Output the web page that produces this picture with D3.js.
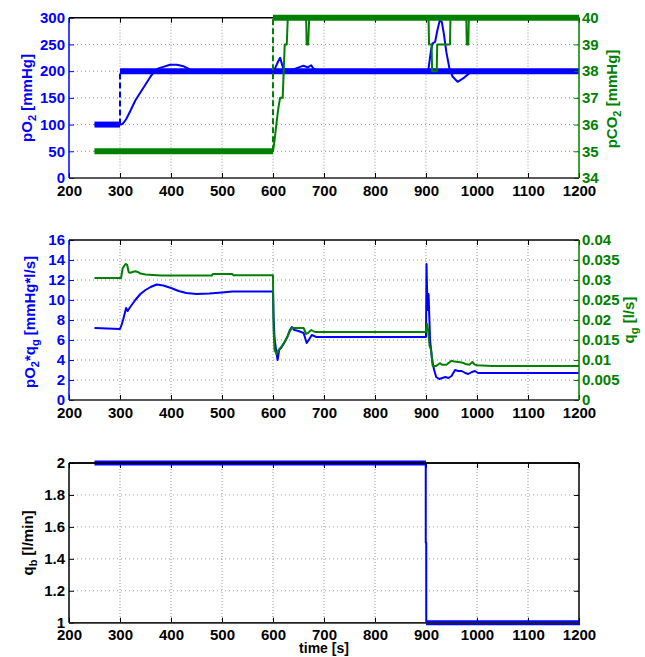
<!DOCTYPE html>
<html>
<head>
<meta charset="utf-8">
<script src="https://cdn.jsdelivr.net/npm/d3@7/dist/d3.min.js"></script>
<style>
  body { margin: 0; background: #fff; }
  svg text { font-family: "Liberation Sans Narrow", "Arial Narrow", "Liberation Sans", sans-serif; font-weight: bold; }
  .tick text { font-size: 15px; }
</style>
</head>
<body>
<div id="chart"></div>
<script>
// ---- data ----
var timeTicks = [200, 300, 400, 500, 600, 700, 800, 900, 1000, 1100, 1200];

// panel 1: pO2 (left) and pCO2 (right)
var po2Ticks = [0, 50, 100, 150, 200, 250, 300];
var pco2Ticks = [34, 35, 36, 37, 38, 39, 40];
var po2SetLowT = [250, 300], po2SetLow = [100, 100];
var po2SetHighT = [300, 1200], po2SetHigh = [200, 200];
var po2StepT = [300, 300], po2Step = [100, 200];
var po2MeasT = [250, 302, 306, 312, 320, 330, 340, 350, 360, 368, 375, 385, 398, 411, 425, 433, 442, 600, 604, 610, 614, 617, 620, 626, 640, 653, 660, 668, 675, 679, 688, 900, 905, 910, 913, 918, 922, 927, 931, 935, 940, 946, 952, 962, 975, 990, 1200];
var po2Meas = [100, 100, 102, 110, 125, 145, 160, 175, 190, 200, 205, 208, 212, 212, 209, 205, 200, 200, 205, 218, 225, 215, 205, 203, 203, 208, 210, 207, 211, 205, 200, 200, 205, 240, 252, 255, 275, 295, 292, 270, 235, 205, 190, 180, 188, 200, 200];
var pco2SetLowT = [250, 600], pco2SetLow = [35, 35];
var pco2SetHighT = [600, 1200], pco2SetHigh = [40, 40];
var pco2StepT = [600, 600], pco2Step = [35, 40];
var pco2MeasT = [250, 600, 603, 606, 609, 612, 614, 619, 621, 623, 627, 629, 665, 666, 669, 671, 905, 906, 911, 912, 921, 922, 947, 948, 979, 980, 983, 984, 1200];
var pco2Meas = [35, 35, 35.4, 35.9, 36.4, 36.8, 37, 37, 38, 39, 39, 40, 40, 39, 39, 40, 40, 39, 39, 38, 38, 39, 39, 40, 40, 39, 39, 40, 40];

// panel 2: pO2*qg (left) and qg (right)
var fluxTicks = [0, 2, 4, 6, 8, 10, 12, 14, 16];
var qgTicks = [0, 0.005, 0.01, 0.015, 0.02, 0.025, 0.03, 0.035, 0.04];
var fluxT = [250, 300, 303, 306, 310, 312, 315, 320, 330, 340, 350, 360, 372, 385, 400, 415, 430, 450, 475, 500, 520, 600, 601, 603, 606, 609, 612, 617, 622, 628, 633, 637, 642, 650, 660, 666, 670, 676, 685, 900, 901, 903, 905, 908, 912, 916, 920, 926, 932, 938, 944, 950, 957, 963, 970, 977, 983, 990, 996, 1002, 1200];
var flux = [7.2, 7.1, 7.5, 8.0, 8.8, 9.2, 8.9, 9.3, 10.0, 10.6, 11.0, 11.3, 11.55, 11.45, 11.2, 10.9, 10.7, 10.6, 10.65, 10.75, 10.85, 10.85, 8.5, 6.2, 5.0, 4.0, 5.0, 5.3, 5.7, 6.3, 7.0, 7.3, 7.0, 6.9, 6.7, 5.7, 6.0, 6.5, 6.3, 6.3, 13.6, 9.0, 10.6, 6.0, 4.0, 3.0, 2.3, 2.1, 2.2, 2.3, 2.2, 2.4, 3.0, 2.9, 2.9, 2.7, 2.6, 2.8, 2.9, 2.7, 2.7];
var qgT = [250, 302, 305, 308, 311, 314, 317, 320, 325, 330, 335, 340, 350, 380, 480, 482, 520, 522, 600, 601, 603, 607, 611, 615, 619, 624, 629, 633, 637, 645, 660, 665, 669, 675, 682, 690, 900, 902, 904, 907, 910, 913, 920, 927, 932, 940, 950, 956, 963, 970, 978, 985, 991, 995, 1000, 1030, 1200];
var qg = [0.0305, 0.0305, 0.0328, 0.0335, 0.034, 0.0338, 0.032, 0.0318, 0.032, 0.0322, 0.032, 0.0316, 0.0314, 0.0311, 0.0311, 0.0315, 0.0315, 0.0312, 0.0312, 0.018, 0.0125, 0.0115, 0.0125, 0.013, 0.0138, 0.0148, 0.016, 0.0172, 0.018, 0.018, 0.018, 0.0165, 0.0168, 0.0175, 0.017, 0.017, 0.017, 0.019, 0.0175, 0.0135, 0.0125, 0.0085, 0.0085, 0.0092, 0.0088, 0.0088, 0.0098, 0.0096, 0.0095, 0.0094, 0.009, 0.0088, 0.0095, 0.0089, 0.0087, 0.0085, 0.0085];

// panel 3: qb
var qbTicks = [1, 1.2, 1.4, 1.6, 1.8, 2];
var qbHighT = [250, 900], qbHigh = [2, 2];
var qbLowT = [900, 1202], qbLow = [1, 1];
var qbStepT = [899.5, 899.5, 900.5, 900.5], qbStep = [2, 1.5, 1.5, 1];

// ---- layout ----
var svgWidth = 645, svgHeight = 657;
var blue = "#0000ff", green = "#008000", black = "#000";
var left = 69, right = 579;

var svg = d3.select("#chart").append("svg")
  .attr("width", svgWidth)
  .attr("height", svgHeight);

var x = d3.scaleLinear().domain([200, 1200]).range([left, right]);

function zip(ts, vs) {
  return ts.map(function(t, i) { return [t, vs[i]]; });
}

// grid of one panel; returns the y scales and settings
function makePanel(top, bottom, yl, ylTicks, ylColor, yr, yrTicks, yrColor, fmtL, fmtR) {
  var g = svg.append("g");
  var yL = d3.scaleLinear().domain(yl).range([bottom, top]);

  // vertical grid
  g.selectAll(".vgrid").data(timeTicks.slice(1, -1)).enter().append("line")
    .attr("x1", d => x(d)).attr("x2", d => x(d))
    .attr("y1", top).attr("y2", bottom)
    .attr("stroke", "#999").attr("stroke-width", 1).attr("stroke-dasharray", "1,2");
  // horizontal grid, same colour as left axis
  g.selectAll(".hgrid").data(ylTicks.slice(1, -1)).enter().append("line")
    .attr("x1", left).attr("x2", right)
    .attr("y1", d => yL(d)).attr("y2", d => yL(d))
    .attr("stroke", ylColor === black ? "#999" : "#8080ff")
    .attr("stroke-width", 1).attr("stroke-dasharray", "1,3");

  var yR = null;
  if (yr) yR = d3.scaleLinear().domain(yr).range([bottom, top]);
  return { g: g, yL: yL, yR: yR, top: top, bottom: bottom,
    ylTicks: ylTicks, yrTicks: yrTicks, ylColor: ylColor, yrColor: yrColor, fmtL: fmtL, fmtR: fmtR };
}

function drawAxes(p) {
  var axG = svg.append("g");
  // bottom and top x axes
  var bottomAxis = d3.axisBottom(x).tickValues(timeTicks).tickSizeInner(-5).tickSizeOuter(0)
    .tickPadding(7).tickFormat(d3.format("d"));
  var xa = axG.append("g").attr("transform", `translate(0,${p.bottom})`).call(bottomAxis);
  var topAxis = d3.axisTop(x).tickValues(timeTicks).tickSizeInner(-5).tickSizeOuter(0).tickFormat("");
  var xt = axG.append("g").attr("transform", `translate(0,${p.top})`).call(topAxis);
  [xa, xt].forEach(function(a) {
    a.select(".domain").remove();
    a.selectAll("line").attr("stroke", black);
    a.selectAll("text").attr("fill", black);
  });

  var leftAxis = d3.axisLeft(p.yL).tickValues(p.ylTicks).tickSizeInner(-5).tickSizeOuter(0).tickPadding(4).tickFormat(p.fmtL);
  var ya = axG.append("g").attr("transform", `translate(${left},0)`).call(leftAxis);
  ya.select(".domain").remove();
  ya.selectAll("line").attr("stroke", p.ylColor);
  ya.selectAll("text").attr("fill", p.ylColor);

  var rScale = p.yR || p.yL;
  var rTicks = p.yR ? p.yrTicks : p.ylTicks;
  var rColor = p.yR ? p.yrColor : black;
  var rightAxis = d3.axisRight(rScale).tickValues(rTicks).tickSizeInner(-5).tickSizeOuter(0).tickPadding(3)
    .tickFormat(p.yR ? p.fmtR : "");
  var yb = axG.append("g").attr("transform", `translate(${right},0)`).call(rightAxis);
  yb.select(".domain").remove();
  yb.selectAll("line").attr("stroke", rColor);
  yb.selectAll("text").attr("fill", rColor);

  // frame edges
  axG.append("line").attr("x1", left).attr("x2", right).attr("y1", p.top).attr("y2", p.top)
    .attr("stroke", black).attr("stroke-width", 1.5);
  axG.append("line").attr("x1", left).attr("x2", right).attr("y1", p.bottom).attr("y2", p.bottom)
    .attr("stroke", "#222").attr("stroke-width", 1.5);
  axG.append("line").attr("x1", left).attr("x2", left).attr("y1", p.top).attr("y2", p.bottom)
    .attr("stroke", p.ylColor).attr("stroke-width", 1.5);
  axG.append("line").attr("x1", right).attr("x2", right).attr("y1", p.top).attr("y2", p.bottom)
    .attr("stroke", rColor).attr("stroke-width", 1.5);
}

function drawLine(p, scale, ts, vs, color, width, dash) {
  var line = d3.line().x(d => x(d[0])).y(d => scale(d[1]));
  var path = svg.append("path")
    .datum(zip(ts, vs))
    .attr("d", line)
    .attr("fill", "none")
    .attr("stroke", color)
    .attr("stroke-width", width)
    .attr("stroke-linejoin", "round");
  if (dash) path.attr("stroke-dasharray", dash);
  return path;
}

function yLabel(cx, cy, color, parts, rot) {
  var t = svg.append("text")
    .attr("transform", `translate(${cx},${cy}) rotate(${rot || -90})`)
    .attr("text-anchor", "middle")
    .attr("dominant-baseline", "central")
    .attr("fill", color)
    .style("font-size", "15px");
  parts.forEach(function(pt) {
    var s = t.append("tspan").text(pt[0]);
    if (pt[1] === "sub") s.attr("baseline-shift", "sub").style("font-size", "11px");
  });
  return t;
}

var fmtInt = d3.format("d");
var fmtQb = function(d) { return d === 1 || d === 2 ? String(d) : d3.format(".1f")(d); };
var fmtQg = function(d) { return d === 0 ? "0" : String(+d.toFixed(3)); };

// ---- panel 1 ----
var p1 = makePanel(17.7, 178, [0, 300], po2Ticks, blue, [34, 40], pco2Ticks, green, fmtInt, fmtInt);
drawLine(p1, p1.yL, po2SetLowT, po2SetLow, blue, 6);
drawLine(p1, p1.yL, po2SetHighT, po2SetHigh, blue, 6);
drawLine(p1, p1.yL, po2StepT, po2Step, blue, 2, "6,3");
drawLine(p1, p1.yL, po2MeasT, po2Meas, blue, 2);
drawAxes(p1);
drawLine(p1, p1.yR, pco2SetLowT, pco2SetLow, green, 6);
drawLine(p1, p1.yR, pco2SetHighT, pco2SetHigh, green, 6);
drawLine(p1, p1.yR, pco2StepT, pco2Step, green, 2, "6,3");
drawLine(p1, p1.yR, pco2MeasT, pco2Meas, green, 2);
yLabel(26, 98, blue, [["pO"], ["2", "sub"], [" [mmHg]"]]);
yLabel(611, 99, green, [["pCO"], ["2", "sub"], [" [mmHg]"]]);

// ---- panel 2 ----
var p2 = makePanel(240, 400, [0, 16], fluxTicks, blue, [0, 0.04], qgTicks, green, fmtInt, fmtQg);
drawLine(p2, p2.yL, fluxT, flux, blue, 2);
drawAxes(p2);
drawLine(p2, p2.yR, qgT, qg, green, 2);
yLabel(29, 322, blue, [["pO"], ["2", "sub"], ["*q"], ["g", "sub"], [" [mmHg*l/s]"]]);
yLabel(628, 320, green, [["q"], ["g", "sub"], [" [l/s]"]]);

// ---- panel 3 ----
var p3 = makePanel(463, 622.7, [1, 2], qbTicks, black, null, null, null, fmtQb, null);
drawAxes(p3);
drawLine(p3, p3.yL, qbHighT, qbHigh, blue, 5);
drawLine(p3, p3.yL, qbStepT, qbStep, blue, 2);
drawLine(p3, p3.yL, qbLowT, qbLow, blue, 5);
svg.append("line").attr("x1", left).attr("x2", right).attr("y1", p3.top).attr("y2", p3.top)
  .attr("stroke", black).attr("stroke-width", 1.5);
svg.append("line").attr("x1", left).attr("x2", right).attr("y1", p3.bottom).attr("y2", p3.bottom)
  .attr("stroke", "#222").attr("stroke-width", 1.5);
yLabel(27, 543, black, [["q"], ["b", "sub"], [" [l/min]"]]);

svg.append("text")
  .attr("x", (left + right) / 2)
  .attr("y", 653)
  .attr("text-anchor", "middle")
  .attr("fill", black)
  .style("font-size", "14px")
  .text("time [s]");
</script>
</body>
</html>
